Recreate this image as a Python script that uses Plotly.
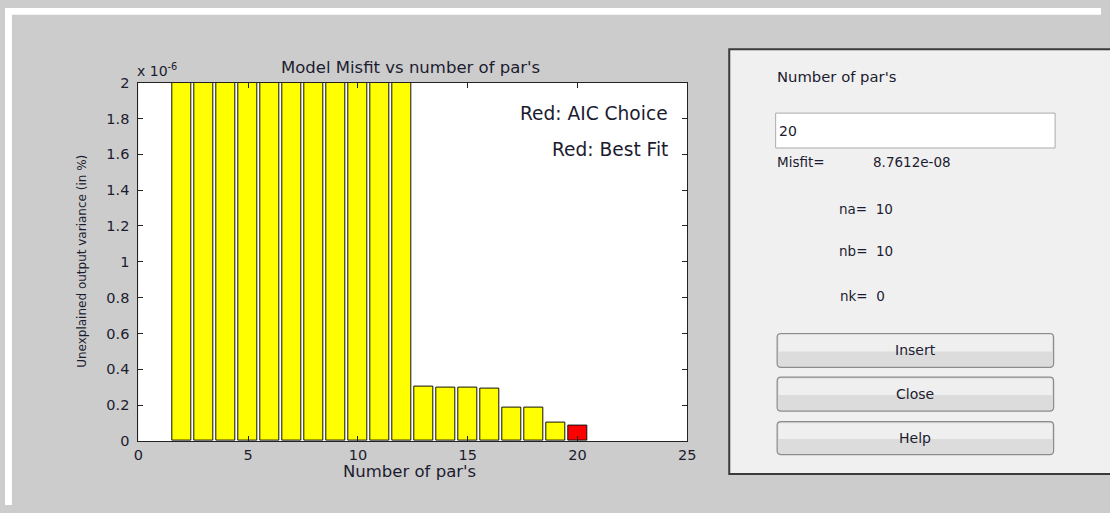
import plotly.graph_objects as go

W, H = 1110, 513

# Model order (number of parameters) and unexplained output variance
n_pars = [2, 3, 4, 5, 6, 7, 8, 9, 10, 11, 12, 13, 14, 15, 16, 17, 18, 19, 20]
misfit = [38.2e-6, 21.5e-6, 14.7e-6, 9.6e-6, 7.3e-6, 5.8e-6, 4.4e-6, 3.9e-6,
          3.1e-6, 2.7e-6, 2.4e-6, 0.302e-6, 0.301e-6, 0.300e-6, 0.290e-6,
          0.188e-6, 0.187e-6, 0.101e-6, 8.7612e-08]
chosen = 20
y_ticks = [0, 0.2, 0.4, 0.6, 0.8, 1, 1.2, 1.4, 1.6, 1.8, 2]
x_ticks = [0, 5, 10, 15, 20, 25]
scale = 1e-6

na, nb, nk = 10, 10, 0
chosen_misfit = misfit[n_pars.index(chosen)]

FONT = "DejaVu Sans, Verdana, sans-serif"
TXT = "#1c1c30"
BG = "#cccccc"
PANEL = "#f0f0f0"


def px(x):
    return x / W


def py(y):
    return 1 - y / H


colors = ["#ff0000" if n == chosen else "#ffff00" for n in n_pars]

fig = go.Figure()
fig.add_trace(go.Bar(
    x=n_pars,
    y=[v / scale for v in misfit],
    width=0.86,
    marker=dict(color=colors, line=dict(color="#111111", width=1)),
    hoverinfo="x+y",
))

axis_common = dict(
    ticks="inside", ticklen=5, tickcolor="#222222",
    showline=True, linecolor="#222222", linewidth=1, mirror="ticks",
    showgrid=False, zeroline=False,
    tickfont=dict(size=14.5, color=TXT, family=FONT),
    fixedrange=True,
)

fig.update_layout(
    width=W, height=H,
    margin=dict(l=0, r=0, t=0, b=0),
    paper_bgcolor=BG,
    plot_bgcolor="#ffffff",
    showlegend=False,
    bargap=0,
    font=dict(family=FONT, color=TXT, size=14),
    xaxis=dict(
        domain=[px(135), px(691)],
        range=[0, 25],
        tickvals=x_ticks,
        ticktext=[str(t) for t in x_ticks],
        ticklabelstandoff=1,
        **axis_common,
    ),
    yaxis=dict(
        domain=[py(447), py(77)],
        range=[0, 2],
        tickvals=y_ticks,
        ticktext=[f"{t:g}" for t in y_ticks],
        ticklabelstandoff=5,
        **axis_common,
    ),
)

shapes = []
# white strips along top and left edges
shapes.append(dict(type="rect", xref="paper", yref="paper",
                   x0=0, x1=1, y0=py(7), y1=1,
                   fillcolor="#ffffff", line=dict(width=0), layer="below"))
shapes.append(dict(type="rect", xref="paper", yref="paper",
                   x0=0, x1=px(7), y0=0, y1=1,
                   fillcolor="#ffffff", line=dict(width=0), layer="below"))
# control panel
shapes.append(dict(type="rect", xref="paper", yref="paper",
                   x0=px(733.5), x1=px(1125), y0=py(481), y1=py(42.5),
                   fillcolor=PANEL, line=dict(color="#3a3a3a", width=2),
                   layer="below"))
# edit box
shapes.append(dict(type="rect", xref="paper", yref="paper",
                   x0=px(780.5), x1=px(1063.5), y0=py(144.5), y1=py(108.5),
                   fillcolor="#ffffff", line=dict(color="#ababab", width=1),
                   layer="above"))


def rounded(x0, y0, x1, y1, r):
    X = lambda v: f"{px(v):.6f}"
    Y = lambda v: f"{py(v):.6f}"
    return (f"M {X(x0 + r)},{Y(y0)} L {X(x1 - r)},{Y(y0)} "
            f"Q {X(x1)},{Y(y0)} {X(x1)},{Y(y0 + r)} "
            f"L {X(x1)},{Y(y1 - r)} Q {X(x1)},{Y(y1)} {X(x1 - r)},{Y(y1)} "
            f"L {X(x0 + r)},{Y(y1)} Q {X(x0)},{Y(y1)} {X(x0)},{Y(y1 - r)} "
            f"L {X(x0)},{Y(y0 + r)} Q {X(x0)},{Y(y0)} {X(x0 + r)},{Y(y0)} Z")


buttons = [("Insert", 336, 371), ("Close", 381, 416), ("Help", 427, 461)]
annotations = []
for label, top, bot in buttons:
    x0, x1 = 782, 1062
    mid = (top + bot) / 2 + 1
    # lighter upper half, darker lower half
    shapes.append(dict(type="path", xref="paper", yref="paper",
                       path=rounded(x0, top, x1, bot, 4),
                       fillcolor="#dcdcdc", line=dict(width=0), layer="above"))
    shapes.append(dict(type="rect", xref="paper", yref="paper",
                       x0=px(x0 + 1.5), x1=px(x1 - 1.5), y0=py(mid), y1=py(top + 1.5),
                       fillcolor="#efefef", line=dict(width=0), layer="above"))
    shapes.append(dict(type="path", xref="paper", yref="paper",
                       path=rounded(x0, top, x1, bot, 4),
                       fillcolor="rgba(0,0,0,0)", line=dict(color="#8c8c8c", width=1.2),
                       layer="above"))
    annotations.append(dict(text=label, x=px((x0 + x1) / 2), y=py((top + bot) / 2),
                            xref="paper", yref="paper", xanchor="center", yanchor="middle",
                            showarrow=False,
                            font=dict(size=14, color=TXT, family=FONT)))


def note(text, x, y, size=13.5, xanchor="left", yanchor="middle", **kw):
    annotations.append(dict(text=text, x=px(x), y=py(y), xref="paper", yref="paper",
                            xanchor=xanchor, yanchor=yanchor, showarrow=False,
                            font=dict(size=size, color=TXT, family=FONT), **kw))


# axes texts
note("Model Misfit vs number of par's", 411, 61, size=16.5, xanchor="center")
note("x 10<sup>-6</sup>", 132, 64, size=14, xanchor="left")
note("Number of par's", 410, 478, size=16.5, xanchor="center")
note("Unexplained output variance (in %)", 78, 262, size=12, xanchor="center",
     textangle=-90)
note("Red: AIC Choice", 673, 109, size=18.6, xanchor="right")
note("Red: Best Fit", 673, 146, size=18.6, xanchor="right")

# panel texts
note("Number of par's", 780, 71, size=14.8)
note(str(chosen), 782, 127, size=14)
note("Misfit=", 780, 159, size=13.5)
note(f"{chosen_misfit:.4e}", 877, 159, size=13.5)
note(f"na=  {na}", 843, 207, size=13.5)
note(f"nb=  {nb}", 843, 251, size=13.5)
note(f"nk=  {nk}", 844, 297, size=13.5)

fig.update_layout(shapes=shapes, annotations=annotations)

fig.write_html("out.html", config={"displayModeBar": False})
